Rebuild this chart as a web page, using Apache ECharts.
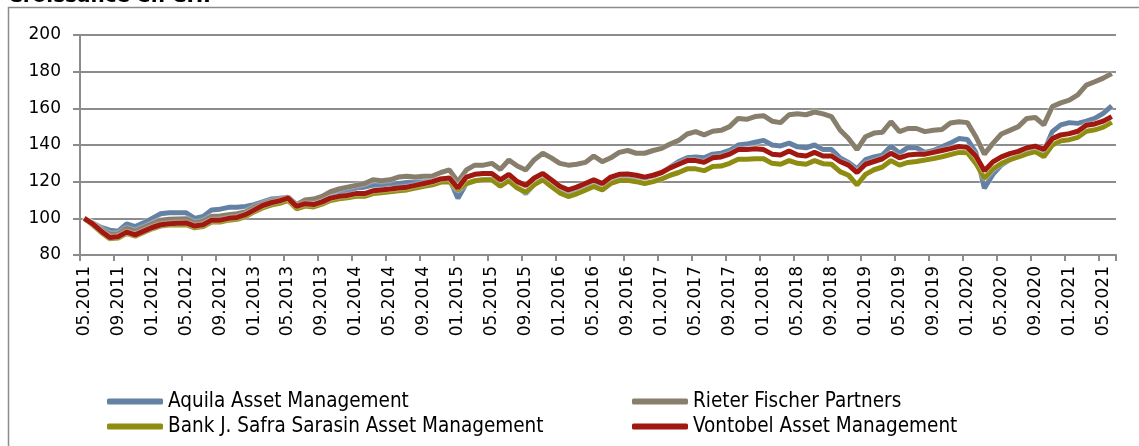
<!DOCTYPE html>
<html>
<head>
<meta charset="utf-8">
<script src="https://cdn.jsdelivr.net/npm/echarts@6/dist/echarts.min.js"></script>
<style>
  html, body { margin: 0; padding: 0; background: #fff; }
  #chart { width: 1139px; height: 446px; }
</style>
</head>
<body>
<div id="chart"></div>
<script>
// mois 05.2011 .. 06.2021
const months = [];
for (let y = 2011; y <= 2021; y++) {
    for (let m = 1; m <= 12; m++) {
        if (y === 2011 && m < 5) continue;
        if (y === 2021 && m > 6) continue;
        months.push((m < 10 ? '0' + m : '' + m) + '.' + y);
    }
}

const seriesNames = ['Aquila Asset Management', 'Rieter Fischer Partners', 'Bank J. Safra Sarasin Asset Management', 'Vontobel Asset Management'];

const aquila = [
    100, 97.5, 95, 93.5, 93, 97, 95.5, 97.5, 100, 102.5, 103, 103, 103, 100, 101, 104.5, 105, 106, 106, 106.5,
    107.5, 109, 110.5, 111, 111.5, 107.5, 109.5, 109.5, 111, 113, 114, 114.5, 116.5, 117, 118, 118, 119, 119, 119.5, 120,
    120, 120.5, 121.5, 121.5, 111, 119, 120.5, 121, 121.5, 118, 121, 117, 113.5, 118.5, 121.5, 118, 115, 113, 114.5, 116.5,
    119, 117, 120.5, 122.5, 123, 122.5, 122, 123, 125, 128, 131, 133, 133.5, 133, 135, 135.5, 137, 140, 140.5, 141.5,
    142.5, 140, 139.5, 141, 139, 138.5, 140, 137.5, 137.5, 133, 130.5, 127, 132, 133.5, 134.5, 139.4, 135.5, 138.7, 138.5, 136,
    137, 139, 141, 143.5, 143, 136, 116.4, 124, 129, 132, 134, 137, 138.3, 136.4, 147.3, 151, 152.2, 151.8, 153, 154.5,
    157.3, 161.3
];

const rieter = [
    100, 97.2, 94, 91.5, 91.5, 94.5, 93, 95, 97, 99, 99.5, 99.7, 99.8, 97.5, 98.5, 101, 101.3, 102, 102.5, 103.5,
    106, 108, 109.5, 110.5, 111.5, 107.5, 110, 110.5, 112, 114.5, 116, 117, 118, 119, 121, 120.5, 121, 122.5, 123, 122.5,
    123, 123, 125, 126.4, 120, 126.4, 129, 129, 130, 126.7, 131.8, 128.5, 126.4, 132, 135.5, 133, 130, 129, 129.5, 130.5,
    134, 130.9, 133, 136, 137, 135.5, 135.5, 137, 138.2, 140.5, 142.5, 146, 147.3, 145.5, 147.5, 148, 150, 154.5, 154, 155.5,
    156, 153, 152.2, 156.5, 157, 156.5, 158, 157, 155.5, 148.2, 143.5, 137.5, 144.5, 146.5, 147, 152.7, 147.3, 149, 149, 147.3,
    148, 148.5, 152, 152.7, 152.2, 144.5, 135, 140.9, 146, 148, 150, 154.5, 155, 151, 161, 163, 164.5, 167.3, 172.7, 174.5,
    176.5, 179
];

const safra = [
    100, 96.3, 92.3, 88.8, 89.3, 91.8, 90.3, 92.3, 94.3, 95.8, 96.3, 96.3, 96.5, 94.8, 95.5, 98, 98, 99, 99.5, 101,
    103.5, 105.7, 107.2, 108.2, 109.7, 105.2, 106.7, 106.2, 107.7, 109.7, 110.7, 111.2, 112, 112, 113.5, 114, 114.5, 115, 115.5, 116.5,
    117.5, 118.3, 119.8, 120, 115.5, 119, 120.5, 121, 121, 117.5, 120.5, 116.5, 114.3, 118.4, 121, 117.4, 113.9, 111.9, 113.4, 115.4,
    117.4, 115.5, 119, 120.6, 120.8, 120, 119, 120, 121.5, 123.5, 125, 127, 127, 126, 128.3, 128.5, 130, 132.2, 132.2, 132.5,
    132.5, 130, 129.5, 131.5, 130, 129.5, 131.5, 129.8, 129.5, 125.5, 123.5, 118.2, 124, 126.5, 128, 131.5, 129, 130.5, 131, 131.8,
    132.6, 133.6, 134.8, 136, 135.8, 130, 121.8, 127, 130, 132, 133.5, 135.2, 136.4, 133.6, 140, 142.3, 142.9, 144.2, 147.5, 148.3,
    149.7, 152.5
];

const vontobel = [
    100, 97, 93, 89.5, 90, 92.5, 91, 93, 95, 96.5, 97, 97.3, 97.5, 95.8, 96.5, 99, 99, 100, 100.5, 102,
    104.5, 107, 108.5, 109.5, 111, 106.5, 108, 107.5, 109, 111, 112, 112.5, 113.5, 113.5, 115, 115.5, 116, 116.5, 117, 118,
    119, 120, 121.5, 122, 116.5, 122.5, 124, 124.5, 124.5, 121, 124, 120, 118, 122, 124.5, 121, 117.5, 115.5, 117, 119,
    121, 119, 122.5, 124, 124.2, 123.5, 122.5, 123.5, 125, 127.5, 129.5, 131.5, 131.5, 130.5, 133, 133.5, 135, 137.5, 137.5, 138,
    137.5, 135, 134.5, 136.7, 134.5, 134, 136, 134, 134, 131, 129, 125, 129.5, 131, 132.5, 135.5, 133, 134.5, 135, 135,
    136, 137, 138, 139.2, 138.7, 134, 126, 130.8, 133.5, 135.3, 136.5, 138.5, 139.4, 137.6, 143.5, 145.5, 146.2, 147.5, 150.8, 151.5,
    153, 155.5
];

const yTicks = { min: 80, max: 200, interval: 20 };
const colors = ['#6481a3', '#887e6c', '#8e8d12', '#a0180f'];

const chart = echarts.init(document.getElementById('chart'));

function line(name, data, color) {
    return {
        name: name,
        type: 'line',
        data: data,
        showSymbol: false,
        symbol: 'none',
        animation: false,
        lineStyle: {
            width: 5,
            color: color,
            shadowColor: 'rgba(255,255,255,0.9)',
            shadowBlur: 2
        },
        itemStyle: { color: color }
    };
}

const legendText = { fontSize: 20.5, color: '#000', fontFamily: '"DejaVu Sans Condensed", "DejaVu Sans"' };

const option = {
    animation: false,
    color: colors,
    textStyle: { fontFamily: 'DejaVu Sans' },
    graphic: [
        {
            type: 'rect',
            shape: { x: 8.5, y: 7.5, width: 1200, height: 500 },
            style: { fill: 'none', stroke: '#8c8c8c', lineWidth: 1.5 },
            silent: true
        },
        {
            type: 'text',
            left: 8,
            top: -13,
            style: {
                text: 'Croissance en CHF',
                font: 'bold 20px "DejaVu Sans"',
                fill: '#000'
            },
            silent: true
        }
    ],
    grid: {
        left: 80,
        right: 23,
        top: 35,
        height: 220
    },
    legend: [
        {
            data: [seriesNames[0], seriesNames[2]],
            orient: 'vertical',
            left: 102,
            top: 386,
            itemWidth: 56,
            itemHeight: 6,
            itemGap: 4,
            icon: 'roundRect',
            textStyle: legendText
        },
        {
            data: [seriesNames[1], seriesNames[3]],
            orient: 'vertical',
            left: 627,
            top: 386,
            itemWidth: 56,
            itemHeight: 6,
            itemGap: 4,
            icon: 'roundRect',
            textStyle: legendText
        }
    ],
    xAxis: {
        type: 'category',
        data: months,
        boundaryGap: true,
        axisLine: { show: true, lineStyle: { color: '#8c8c8c', width: 2 } },
        axisTick: { show: true, interval: 3, length: 6, lineStyle: { color: '#8c8c8c', width: 2 } },
        axisLabel: {
            interval: 3,
            rotate: 90,
            margin: 11,
            fontSize: 17,
            color: '#000',
            fontFamily: 'DejaVu Sans'
        },
        splitLine: { show: false }
    },
    yAxis: {
        type: 'value',
        min: yTicks.min,
        max: yTicks.max,
        interval: yTicks.interval,
        axisLine: { show: true, lineStyle: { color: '#8c8c8c', width: 2 } },
        axisTick: { show: true, length: 7, lineStyle: { color: '#8c8c8c', width: 2 } },
        axisLabel: { margin: 19, fontSize: 17, color: '#000', fontFamily: 'DejaVu Sans' },
        splitLine: { show: true, lineStyle: { color: '#8c8c8c', width: 2 } }
    },
    series: [
        line(seriesNames[0], aquila, colors[0]),
        line(seriesNames[1], rieter, colors[1]),
        line(seriesNames[2], safra, colors[2]),
        line(seriesNames[3], vontobel, colors[3])
    ]
};

chart.setOption(option);
</script>
</body>
</html>
